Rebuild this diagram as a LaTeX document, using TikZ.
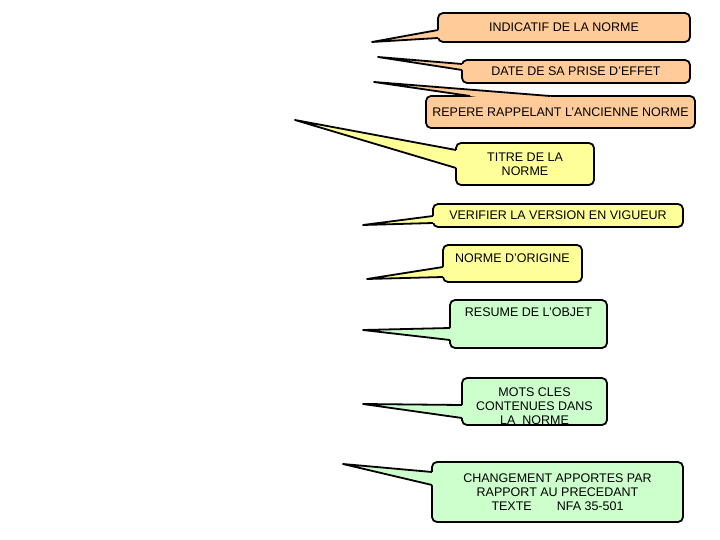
\documentclass[tikz,border=0pt]{standalone}
\usepackage{fontspec}
\setmainfont{Liberation Sans}
\usetikzlibrary{calc}
\definecolor{peach}{HTML}{FFCC99}
\definecolor{lemon}{HTML}{FFFF99}
\definecolor{mint}{HTML}{CCFFCC}

\tikzset{
  callbox/.style={draw, line width=1.8pt, rounded corners=5pt, align=center, inner sep=2pt},
  tailedge/.style={line width=1.8pt, line join=round}
}
% tail of a callout: box, tip, two base points, colour
\newcommand{\calltail}[5]{%
  \fill[#5] (#2) -- (#3) -- ($(#3)!4pt!(#1.center)$) -- ($(#4)!4pt!(#1.center)$) -- (#4) -- cycle;
  \draw[tailedge] (#3) -- (#2) -- (#4);
}

\begin{document}
\begin{tikzpicture}[x=1pt, y=-1pt, font=\fontsize{12.5}{14}\selectfont]
\useasboundingbox (0,0) rectangle (720,540);

% orange callouts
\node[callbox, fill=peach, minimum width=252pt, minimum height=29pt] (ind) at (564,27.5) {INDICATIF DE LA NORME};
\node[callbox, fill=peach, minimum width=228pt, minimum height=23pt] (date) at (576,71.5) {DATE DE SA PRISE D'EFFET};
\node[callbox, fill=peach, minimum width=269pt, minimum height=32pt] (rep) at (560.5,112) {REPERE RAPPELANT L'ANCIENNE NORME};

% yellow callouts
\node[callbox, fill=lemon, minimum width=138pt, minimum height=42pt] (tit) at (525,164) {TITRE DE LA\\NORME};
\node[callbox, fill=lemon, minimum width=250pt, minimum height=23pt] (ver) at (558,215.5) {VERIFIER LA VERSION EN VIGUEUR};
\node[callbox, fill=lemon, minimum width=139pt, minimum height=37pt] (ori) at (512.5,263.5) {NORME D'ORIGINE\rule[-11pt]{0pt}{11pt}};

% green callouts
\node[callbox, fill=mint, minimum width=157pt, minimum height=48pt] (res) at (528.5,324) {RESUME DE L'OBJET\rule[-24pt]{0pt}{24pt}};
\node[callbox, fill=mint, minimum width=145pt, minimum height=47pt, inner ysep=0pt] (mots) at (534.5,401.5) {\rule{0pt}{18pt}MOTS CLES\\CONTENUES DANS\\LA\ \ NORME};
\node[callbox, fill=mint, minimum width=251pt, minimum height=60pt] (chg) at (557.5,492) {CHANGEMENT APPORTES PAR\\RAPPORT AU PRECEDANT\\TEXTE\qquad NFA 35-501};

% tails
\coordinate (ind tip) at (372,42);  \coordinate (ind a) at (438,30);  \coordinate (ind b) at (438,38);
\coordinate (date tip) at (378,57); \coordinate (date a) at (462,64); \coordinate (date b) at (462,70);
\coordinate (rep tip) at (374,82);  \coordinate (rep a) at (550,96);  \coordinate (rep b) at (470,96);
\coordinate (tit tip) at (295,120); \coordinate (tit a) at (456,150); \coordinate (tit b) at (456,168);
\coordinate (ver tip) at (363,225); \coordinate (ver a) at (433,216); \coordinate (ver b) at (433,223);
\coordinate (ori tip) at (367,279); \coordinate (ori a) at (443,267); \coordinate (ori b) at (443,277);
\coordinate (res tip) at (363,330); \coordinate (res a) at (450,328); \coordinate (res b) at (450,340);
\coordinate (mots tip) at (363,404); \coordinate (mots a) at (462,405); \coordinate (mots b) at (462,418);
\coordinate (chg tip) at (343,464); \coordinate (chg a) at (432,472); \coordinate (chg b) at (432,485);

\calltail{ind}{ind tip}{ind a}{ind b}{peach}
\calltail{date}{date tip}{date a}{date b}{peach}
\calltail{rep}{rep tip}{rep a}{rep b}{peach}
\calltail{tit}{tit tip}{tit a}{tit b}{lemon}
\calltail{ver}{ver tip}{ver a}{ver b}{lemon}
\calltail{ori}{ori tip}{ori a}{ori b}{lemon}
\calltail{res}{res tip}{res a}{res b}{mint}
\calltail{mots}{mots tip}{mots a}{mots b}{mint}
\calltail{chg}{chg tip}{chg a}{chg b}{mint}
\end{tikzpicture}
\end{document}
